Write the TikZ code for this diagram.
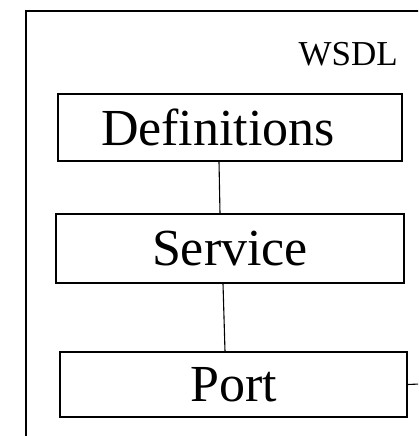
\documentclass[tikz,border=0pt]{standalone}
\usepackage{fontspec}
\setmainfont{Liberation Serif}
\begin{document}
\begin{tikzpicture}[x=1pt,y=1pt,
  box/.style={draw=black,line width=1.2pt,inner sep=0pt,font=\fontsize{52}{52}\selectfont},
  link/.style={draw=black,line width=1.1pt}]
\useasboundingbox (0,0) rectangle (418,-436);
\clip (0,0) rectangle (418,-436);
\draw[line width=1.6pt] (26,-11) rectangle (440,-460);
\node[anchor=base east,font=\fontsize{35}{35}\selectfont,inner sep=0pt] (wsdl) at (398,-65) {WSDL};
\node[box,minimum width=344pt,minimum height=67pt] (def) at (230,-127.5) {\hspace*{-24pt}Definitions};
\node[box,minimum width=348pt,minimum height=69pt] (svc) at (230,-248.5) {Service};
\node[box,minimum width=347pt,minimum height=65pt] (port) at (233.5,-384.5) {Port};
\coordinate (pe) at (420,-384);
\draw[link] ([xshift=-11pt]def.south) -- ([xshift=-10pt]svc.north);
\draw[link] ([xshift=-7pt]svc.south) -- ([xshift=-8.5pt]port.north);
\draw[link] (port.east) -- (pe);
\end{tikzpicture}
\end{document}
